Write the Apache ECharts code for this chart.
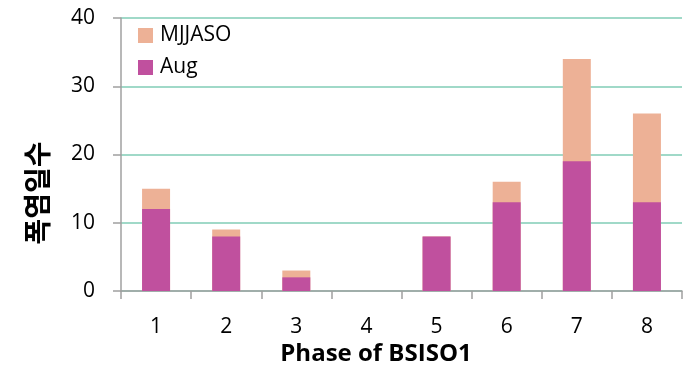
<!DOCTYPE html>
<html><head><meta charset="utf-8">
<script src="https://cdn.jsdelivr.net/npm/echarts@6/dist/echarts.min.js"></script>
<style>html,body{margin:0;padding:0;background:#fff}#c{width:690px;height:367px}</style>
</head><body><div id="c"></div>
<script>
var categories = ['1','2','3','4','5','6','7','8'];
var mjjaso = [15, 9, 3, 0, 8, 16, 34, 26];
var aug = [12, 8, 2, 0, 8, 13, 19, 13];
var yTicks = {min: 0, max: 40, interval: 10};
var xTitle = 'Phase of BSISO1';
var yTitle = '폭염일수';

var FONT = '"Open Sans", "Noto Sans CJK KR", sans-serif';
var chart = echarts.init(document.getElementById('c'));
chart.setOption({
  animation: false,
  textStyle: {fontFamily: FONT},
  grid: {left: 121, right: 8, top: 18, bottom: 76},
  legend: {
    orient: 'vertical', left: 138, top: 25, itemWidth: 15, itemHeight: 15, itemGap: 11,
    icon: 'rect', padding: 0,
    textStyle: {fontSize: 21, color: '#000', fontFamily: FONT, padding: [0, 0, 0, 2]},
    data: ['MJJASO', 'Aug']
  },
  xAxis: {
    type: 'category', data: categories,
    axisLine: {lineStyle: {color: '#A0A0A0', width: 1.5}},
    axisTick: {show: true, length: 8, lineStyle: {color: '#A0A0A0', width: 1.5}},
    axisLabel: {fontSize: 21, color: '#000', margin: 26, fontFamily: FONT}
  },
  yAxis: {
    type: 'value', min: yTicks.min, max: yTicks.max, interval: yTicks.interval,
    axisLine: {show: true, lineStyle: {color: '#A0A0A0', width: 1.5}},
    axisTick: {show: true, length: 8, lineStyle: {color: '#A0A0A0', width: 1.5}},
    splitLine: {lineStyle: {color: '#80CCB6', width: 1.5}},
    axisLabel: {fontSize: 21, color: '#000', margin: 26, fontFamily: FONT}
  },
  graphic: [
    {type: 'text', x: 376, y: 354,
     style: {text: xTitle, fontSize: 24, fontWeight: 'bold', fill: '#000', fontFamily: FONT,
             align: 'center', verticalAlign: 'middle'}},
    {type: 'text', x: 37, y: 193, rotation: Math.PI / 2,
     style: {text: yTitle, fontSize: 28, fontWeight: 'bold', fill: '#000',
             fontFamily: '"Noto Sans CJK KR", sans-serif', align: 'center', verticalAlign: 'middle'}}
  ],
  series: [
    {name: 'MJJASO', type: 'bar', data: mjjaso, barWidth: 28, barGap: '-100%',
     itemStyle: {color: '#EDB196'}},
    {name: 'Aug', type: 'bar', data: aug, barWidth: 28, barGap: '-100%',
     itemStyle: {color: '#C0509E'}}
  ]
});
</script></body></html>
